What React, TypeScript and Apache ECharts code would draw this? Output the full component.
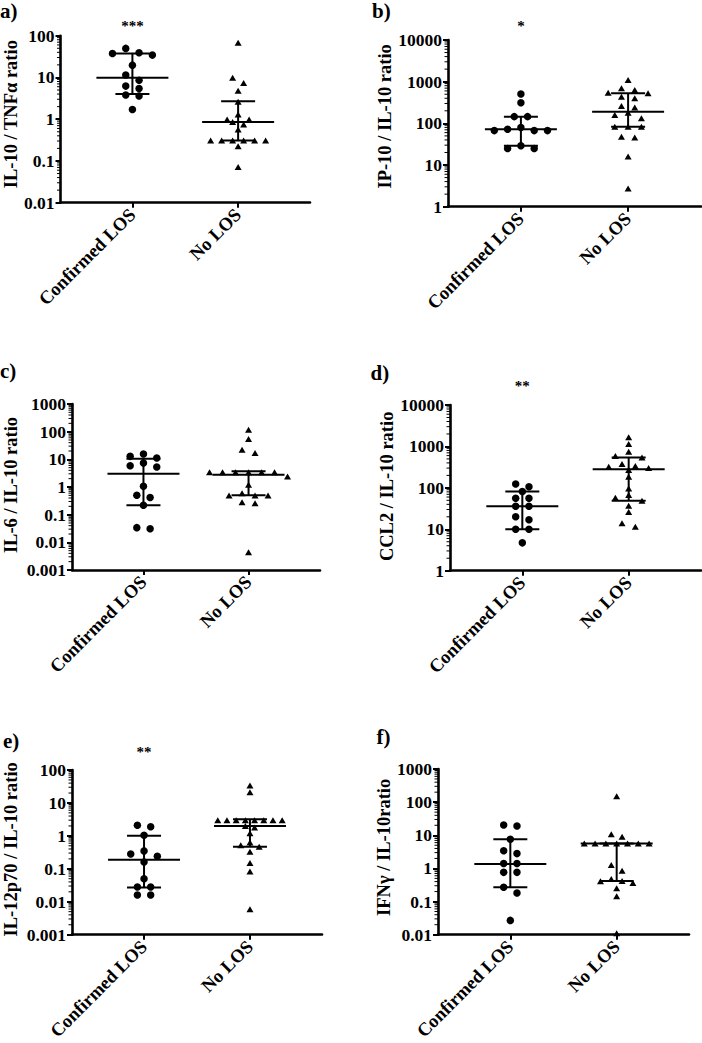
import React, { useEffect, useRef } from 'react';
import * as echarts from 'echarts';

const categories = ['Confirmed LOS', 'No LOS'];

// ---- panel a : IL-10 / TNFα ratio
const aConfirmed = [49.6, 38.9, 37.6, 34.3, 19.7, 11.4, 8.6, 6.2, 5.4, 3.8, 3.6, 1.7];
const aNoLos = [67.6, 9.8, 7.4, 4.8, 2.6, 1.3, 0.98, 0.98, 0.86, 0.75, 0.57, 0.31, 0.31, 0.31, 0.31, 0.31, 0.31, 0.225, 0.072];
const aMedian = [9.8, 0.86];
const aQ1 = [4.0, 0.31];
const aQ3 = [37.6, 2.7];

// ---- panel b : IP-10 / IL-10 ratio
const bConfirmed = [506, 313, 145, 145, 79, 67, 72, 67, 67, 29, 25, 25];
const bNoLos = [1100, 692, 631, 545, 525, 437, 260, 240, 180, 158, 132, 83, 83, 83, 48, 46, 16, 2.75, 400];
const bMedian = [72, 190];
const bQ1 = [29, 83];
const bQ3 = [145, 525];

// ---- panel c : IL-6 / IL-10 ratio
const cConfirmed = [15.6, 12.8, 11.2, 7.4, 5.9, 5.3, 1.06, 0.5, 0.42, 0.22, 0.034, 0.031];
const cNoLos = [118, 54, 22, 17, 3.4, 3.4, 3.4, 3.4, 3.4, 3.4, 2.4, 1.2, 0.6, 0.49, 0.49, 0.49, 0.28, 0.26, 0.0044];
const cMedian = [3.0, 2.8];
const cQ1 = [0.22, 0.5];
const cQ3 = [10.6, 3.7];

// ---- panel d : CCL2 / IL-10 ratio
const dConfirmed = [124, 106, 82, 56, 56, 36, 36, 20, 17, 10, 10, 4.7];
const dNoLos = [1660, 1140, 745, 585, 543, 375, 335, 325, 270, 186, 97, 67, 58, 49, 37, 26, 14, 11.5, 300];
const dMedian = [36, 280];
const dQ1 = [10, 49];
const dQ3 = [82, 543];

// ---- panel e : IL-12p70 / IL-10 ratio
const eConfirmed = [2.1, 1.9, 1.05, 0.35, 0.28, 0.24, 0.16, 0.05, 0.028, 0.028, 0.016, 0.016];
const eNoLos = [33.6, 21, 3.0, 3.0, 3.0, 3.0, 3.0, 3.0, 3.0, 3.0, 2.0, 1.8, 1.2, 0.63, 0.52, 0.47, 0.33, 0.15, 0.083, 0.0059];
const eMedian = [0.19, 2.0];
const eQ1 = [0.027, 0.47];
const eQ3 = [1.0, 3.2];

// ---- panel f : IFNγ / IL-10 ratio
const fConfirmed = [20.4, 19, 7.6, 3.4, 2.8, 1.4, 1.4, 0.76, 0.76, 0.27, 0.18, 0.027];
const fNoLos = [151, 10.7, 9.1, 5.6, 5.6, 5.6, 5.6, 5.6, 5.6, 5.6, 1.26, 0.85, 0.48, 0.42, 0.41, 0.36, 0.25, 0.145, 0.011];
const fMedian = [1.35, 5.6];
const fQ1 = [0.27, 0.42];
const fQ3 = [7.6, 5.6];

const FONT = '"Liberation Serif", "Times New Roman", serif';
const X_MIN = -0.68;
const X_MAX = 1.68;

type Panel = {
  letter: string;
  yName: string;
  yMin: number;
  yMax: number;
  stars: string;
  conf: number[];
  no: number[];
  med: number[];
  q1: number[];
  q3: number[];
  grid: { left: number; top: number; width: number; height: number };
  nameGap: number;
  nameShift: number;
  letterPos: [number, number];
  starDy: number;
  triUnit: number;
};

const panels: Panel[] = [
  { letter: 'a)', yName: 'IL-10 / TNFα ratio', yMin: 0.01, yMax: 100, stars: '***', conf: aConfirmed, no: aNoLos, med: aMedian, q1: aQ1, q3: aQ3,
    grid: { left: 58, top: 35.7, width: 252, height: 167 }, nameGap: 39, nameShift: 10, letterPos: [0, 0], starDy: -10, triUnit: 11 },
  { letter: 'b)', yName: 'IP-10 / IL-10 ratio', yMin: 1, yMax: 10000, stars: '*', conf: bConfirmed, no: bNoLos, med: bMedian, q1: bQ1, q3: bQ3,
    grid: { left: 448, top: 40, width: 253, height: 166.7 }, nameGap: 51.6, nameShift: 14, letterPos: [372, 0], starDy: -14, triUnit: 13.3 },
  { letter: 'c)', yName: 'IL-6 / IL-10 ratio', yMin: 0.001, yMax: 1000, stars: '', conf: cConfirmed, no: cNoLos, med: cMedian, q1: cQ1, q3: cQ3,
    grid: { left: 70.7, top: 404, width: 249.3, height: 166 }, nameGap: 52, nameShift: 4, letterPos: [0, 360.5], starDy: 0, triUnit: 13 },
  { letter: 'd)', yName: 'CCL2 / IL-10 ratio', yMin: 1, yMax: 10000, stars: '**', conf: dConfirmed, no: dNoLos, med: dMedian, q1: dQ1, q3: dQ3,
    grid: { left: 450, top: 405, width: 251, height: 165.7 }, nameGap: 53.6, nameShift: 3, letterPos: [370.5, 362], starDy: -19, triUnit: 13.3 },
  { letter: 'e)', yName: 'IL-12p70 / IL-10 ratio', yMin: 0.001, yMax: 100, stars: '**', conf: eConfirmed, no: eNoLos, med: eMedian, q1: eQ1, q3: eQ3,
    grid: { left: 70.7, top: 770, width: 251.3, height: 166 }, nameGap: 52, nameShift: 6, letterPos: [3, 730.5], starDy: -18.3, triUnit: 9.2 },
  { letter: 'f)', yName: 'IFNγ / IL-10ratio', yMin: 0.01, yMax: 1000, stars: '', conf: fConfirmed, no: fNoLos, med: fMedian, q1: fQ1, q3: fQ3,
    grid: { left: 438, top: 769, width: 251, height: 167 }, nameGap: 43.3, nameShift: 9, letterPos: [376.5, 726], starDy: 0, triUnit: 10.8 },
];

const CIRCLE_UNIT = 13.3;
const ROW_PX = 6.8;

// simple row-based beeswarm: returns a horizontal slot per point
function swarm(values: number[], pxPerDecade: number, rowPx: number): number[] {
  const order = values.map((_, i) => i).sort((i, j) => values[j] - values[i]);
  const slots = new Array(values.length).fill(0);
  let k = 0;
  while (k < order.length) {
    const start = Math.log10(values[order[k]]) * pxPerDecade;
    const row = [order[k]];
    let m = k + 1;
    while (m < order.length && start - Math.log10(values[order[m]]) * pxPerDecade < rowPx) {
      row.push(order[m]);
      m++;
    }
    const n = row.length;
    const cand: number[] = [];
    for (let s = 0; s < n; s++) cand.push(s - (n - 1) / 2);
    cand.sort((p, q) => Math.abs(p) - Math.abs(q) || p - q);
    row.forEach((id, r) => {
      slots[id] = cand[r];
    });
    k = m;
  }
  return slots;
}

function decadeLabel(v: number) {
  const k = Math.round(Math.log10(v));
  return k < 0 ? Math.pow(10, k).toFixed(-k) : String(Math.round(Math.pow(10, k)));
}

function buildOption() {
  const grid: any[] = [];
  const xAxis: any[] = [];
  const yAxis: any[] = [];
  const series: any[] = [];

  panels.forEach((p, i) => {
    grid.push({ ...p.grid, containLabel: false });
    xAxis.push({
      type: 'value',
      gridIndex: i,
      min: X_MIN,
      max: X_MAX,
      splitLine: { show: false },
      axisLine: { show: true, onZero: false, lineStyle: { color: '#000', width: 2.6 } },
      axisTick: { show: true, customValues: [0, 1], length: 5, lineStyle: { color: '#000', width: 2 } },
      axisLabel: {
        customValues: [0, 1],
        formatter: (v: number) => categories[Math.round(v)] ?? '',
        rotate: 45,
        margin: 9,
        color: '#000',
        fontFamily: FONT,
        fontWeight: 'bold',
        fontSize: 18.5,
      },
    });
    yAxis.push({
      type: 'log',
      logBase: 10,
      gridIndex: i,
      min: p.yMin,
      max: p.yMax,
      name: p.yName,
      nameLocation: 'middle',
      nameGap: p.nameGap,
      nameTextStyle: {
        color: '#000',
        fontFamily: FONT,
        fontWeight: 'bold',
        fontSize: 18.5,
        padding: [0, 0, 0, p.nameShift],
      },
      splitLine: { show: false },
      axisLine: { show: true, onZero: false, lineStyle: { color: '#000', width: 2.6 } },
      axisTick: { show: true, length: 5, lineStyle: { color: '#000', width: 2 } },
      axisLabel: {
        color: '#000',
        fontFamily: FONT,
        fontWeight: 'bold',
        fontSize: 17.5,
        margin: 6,
        formatter: decadeLabel,
      },
    });

    const decades = Math.log10(p.yMax) - Math.log10(p.yMin);
    const pxPerDecade = p.grid.height / decades;

    // minor ticks at 2..9 x 10^k
    const minors: number[][] = [];
    for (let k = Math.round(Math.log10(p.yMin)); k < Math.round(Math.log10(p.yMax)); k++) {
      for (let m = 2; m <= 9; m++) minors.push([X_MIN, m * Math.pow(10, k)]);
    }
    series.push({
      type: 'custom',
      xAxisIndex: i,
      yAxisIndex: i,
      silent: true,
      clip: false,
      data: minors,
      renderItem: (_params: any, api: any) => {
        const pt = api.coord([X_MIN, api.value(1)]);
        return {
          type: 'line',
          shape: { x1: pt[0] - 3.5, y1: pt[1], x2: pt[0], y2: pt[1] },
          style: { stroke: '#000', lineWidth: 1 },
        };
      },
    });

    // median + interquartile range
    series.push({
      type: 'custom',
      xAxisIndex: i,
      yAxisIndex: i,
      silent: true,
      clip: false,
      data: [0, 1].map((c) => [c, p.med[c], p.q1[c], p.q3[c]]),
      renderItem: (_params: any, api: any) => {
        const c = api.value(0);
        const pm = api.coord([c, api.value(1)]);
        const p1 = api.coord([c, api.value(2)]);
        const p3 = api.coord([c, api.value(3)]);
        const st = { stroke: '#000', lineWidth: 2 };
        const ln = (x1: number, y1: number, x2: number, y2: number) => ({ type: 'line', shape: { x1, y1, x2, y2 }, style: st });
        return {
          type: 'group',
          children: [
            ln(p1[0], p1[1], p3[0], p3[1]),
            ln(p1[0] - 17, p1[1], p1[0] + 17, p1[1]),
            ln(p3[0] - 17, p3[1], p3[0] + 17, p3[1]),
            ln(pm[0] - 36, pm[1], pm[0] + 36, pm[1]),
          ],
        };
      },
    });

    const confSlots = swarm(p.conf, pxPerDecade, ROW_PX);
    series.push({
      type: 'scatter',
      xAxisIndex: i,
      yAxisIndex: i,
      symbol: 'circle',
      symbolSize: 7.5,
      itemStyle: { color: '#000', opacity: 1 },
      silent: true,
      data: p.conf.map((v, j) => ({ value: [0, v], symbolOffset: [confSlots[j] * CIRCLE_UNIT, 0] })),
    });
    const noSlots = swarm(p.no, pxPerDecade, ROW_PX - 1);
    series.push({
      type: 'scatter',
      xAxisIndex: i,
      yAxisIndex: i,
      symbol: 'triangle',
      symbolSize: [7, 6],
      itemStyle: { color: '#000', opacity: 1 },
      silent: true,
      data: p.no.map((v, j) => ({ value: [1, v], symbolOffset: [noSlots[j] * p.triUnit, 0] })),
    });
  });

  return {
    animation: false,
    backgroundColor: '#fff',
    grid,
    xAxis,
    yAxis,
    series,
  };
}

export default function App() {
  const ref = useRef<HTMLDivElement>(null);
  useEffect(() => {
    document.body.style.margin = '0';
    if (!ref.current) return;
    const chart = echarts.init(ref.current, undefined, { renderer: 'svg' });
    chart.setOption(buildOption());
    const graphic: any[] = [];
    panels.forEach((p, i) => {
      graphic.push({
        type: 'text',
        x: p.letterPos[0],
        y: p.letterPos[1],
        style: { text: p.letter, fill: '#000', font: `bold 21px ${FONT}`, textAlign: 'left', textVerticalAlign: 'top' },
      });
      if (p.stars) {
        const pt = chart.convertToPixel({ xAxisIndex: i, yAxisIndex: i } as any, [0, p.yMax]) as number[];
        graphic.push({
          type: 'text',
          x: pt[0],
          y: pt[1] + p.starDy,
          style: { text: p.stars, fill: '#000', font: `bold 15px ${FONT}`, textAlign: 'center', textVerticalAlign: 'middle' },
        });
      }
    });
    chart.setOption({ graphic });
    return () => chart.dispose();
  }, []);
  return <div ref={ref} style={{ width: 702, height: 1043 }} />;
}
